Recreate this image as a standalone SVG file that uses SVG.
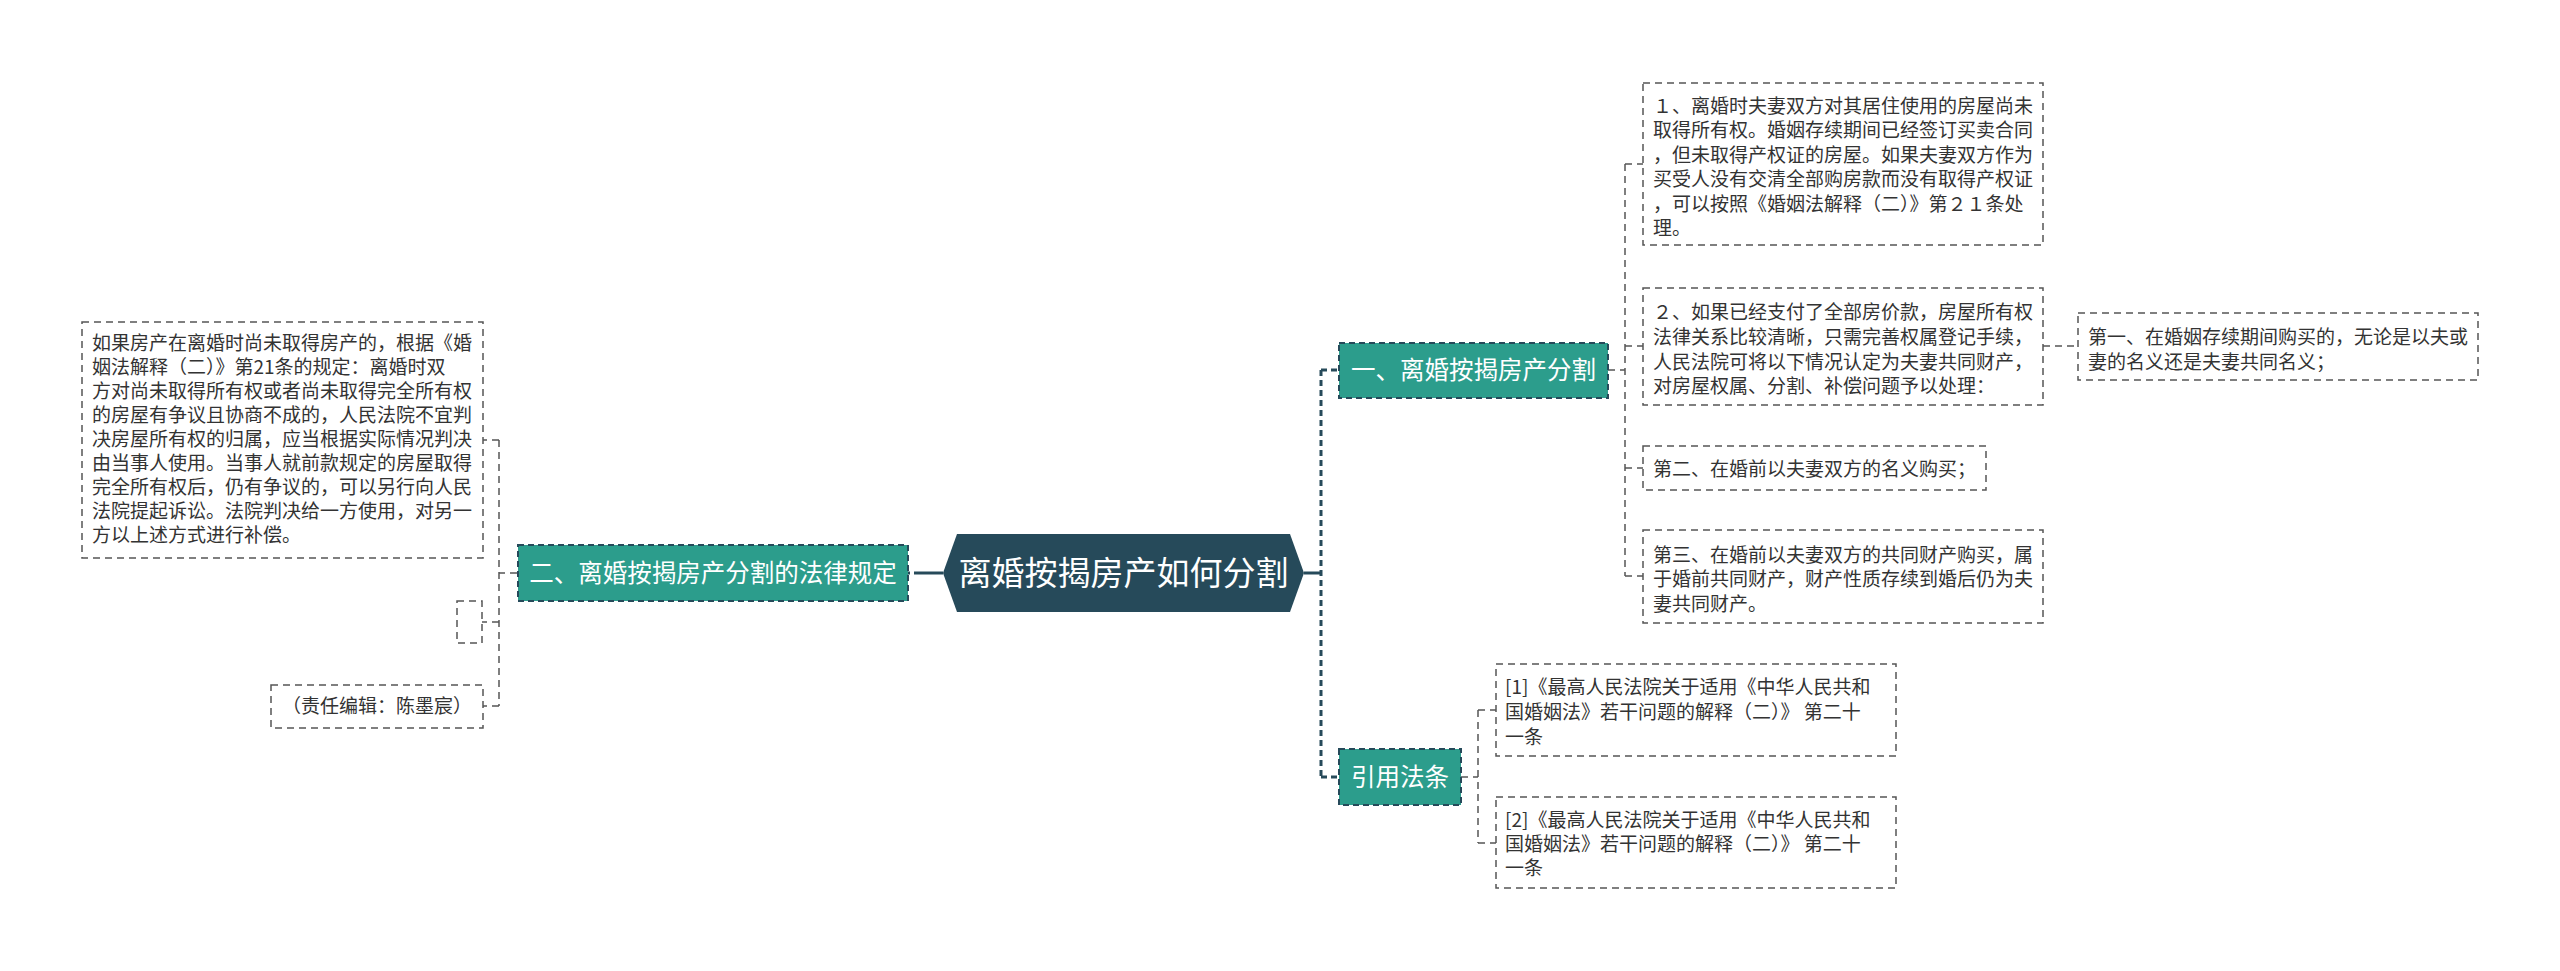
<svg xmlns="http://www.w3.org/2000/svg" width="2560" height="971" viewBox="0 0 2560 971">
<style>
text{font-family:"Microsoft YaHei","Noto Sans CJK SC","Noto Sans",sans-serif;}
.body{font-size:19px;fill:#333333;}
.box{fill:#ffffff;stroke:#555555;stroke-width:1.5;stroke-dasharray:7 5;}
.teal{fill:#2c9d8c;stroke:#264a5a;stroke-width:2;stroke-dasharray:6 4;}
.tt{font-size:24.5px;fill:#ffffff;text-anchor:middle;}
.ct{font-size:33px;fill:#ffffff;text-anchor:middle;}
.c1{fill:none;stroke:#264a5a;stroke-width:3;stroke-dasharray:6 4;}
.c2{fill:none;stroke:#555555;stroke-width:1.5;stroke-dasharray:7 5;}
</style>
<rect width="2560" height="971" fill="#ffffff"/>
<g id="connectors">
<path class="c1" d="M920 573H908"/>
<path d="M943 573H920" stroke="#264a5a" stroke-width="3" fill="none"/>
<path d="M1304 573H1321" stroke="#264a5a" stroke-width="3" fill="none"/>
<path class="c1" d="M1321 370V777M1321 370H1339M1321 777H1339"/>
<path class="c2" d="M517 573H499M499 440V706M499 440H483M499 622H482M499 706H483"/>
<path class="c2" d="M1608 370H1625M1625 164V576M1625 164H1643M1625 346H1643M1625 468H1643M1625 576H1643"/>
<path class="c2" d="M2043 346H2078"/>
<path class="c2" d="M1461 777H1478M1478 710V843M1478 710H1496M1478 843H1496"/>
</g>
<g id="center">
<polygon points="943,573 957,534 1290,534 1304,573 1290,612 957,612" fill="#264a5a"/>
<text class="ct" x="1123.5" y="585">离婚按揭房产如何分割</text>
</g>
<g id="node-er">
<rect class="teal" x="518" y="545" width="390" height="56"/>
<text class="tt" x="713" y="582">二、离婚按揭房产分割的法律规定</text>
</g>
<g id="node-yi">
<rect class="teal" x="1339" y="343" width="269" height="55"/>
<text class="tt" x="1473.5" y="379">一、离婚按揭房产分割</text>
</g>
<g id="node-yinyong">
<rect class="teal" x="1339" y="749" width="122" height="56"/>
<text class="tt" x="1400" y="786">引用法条</text>
</g>
<g id="left-text">
<rect class="box" x="82" y="322" width="401" height="236"/>
<text class="body" x="92" y="350">如果房产在离婚时尚未取得房产的，根据《婚</text>
<text class="body" x="92" y="374">姻法解释（二）》第21条的规定：离婚时双</text>
<text class="body" x="92" y="398">方对尚未取得所有权或者尚未取得完全所有权</text>
<text class="body" x="92" y="422">的房屋有争议且协商不成的，人民法院不宜判</text>
<text class="body" x="92" y="446">决房屋所有权的归属，应当根据实际情况判决</text>
<text class="body" x="92" y="470">由当事人使用。当事人就前款规定的房屋取得</text>
<text class="body" x="92" y="494">完全所有权后，仍有争议的，可以另行向人民</text>
<text class="body" x="92" y="518">法院提起诉讼。法院判决给一方使用，对另一</text>
<text class="body" x="92" y="542">方以上述方式进行补偿。</text>
</g>
<g id="left-empty">
<rect class="box" x="457" y="601" width="25" height="42"/>
</g>
<g id="left-editor">
<rect class="box" x="271" y="685" width="212" height="43"/>
<text class="body" x="377" y="713" text-anchor="middle">（责任编辑：陈墨宸）</text>
</g>
<g id="item-1">
<rect class="box" x="1643" y="83" width="400" height="162"/>
<text class="body" x="1653" y="113">１、离婚时夫妻双方对其居住使用的房屋尚未</text>
<text class="body" x="1653" y="137.4">取得所有权。婚姻存续期间已经签订买卖合同</text>
<text class="body" x="1653" y="161.8">，但未取得产权证的房屋。如果夫妻双方作为</text>
<text class="body" x="1653" y="186.2">买受人没有交清全部购房款而没有取得产权证</text>
<text class="body" x="1653" y="210.6">，可以按照《婚姻法解释（二）》第２１条处</text>
<text class="body" x="1653" y="235">理。</text>
</g>
<g id="item-2">
<rect class="box" x="1643" y="288" width="400" height="117"/>
<text class="body" x="1653" y="319">２、如果已经支付了全部房价款，房屋所有权</text>
<text class="body" x="1653" y="343.8">法律关系比较清晰，只需完善权属登记手续，</text>
<text class="body" x="1653" y="368.6">人民法院可将以下情况认定为夫妻共同财产，</text>
<text class="body" x="1653" y="393.4">对房屋权属、分割、补偿问题予以处理：</text>
</g>
<g id="item-first">
<rect class="box" x="2078" y="313" width="400" height="67"/>
<text class="body" x="2088" y="344">第一、在婚姻存续期间购买的，无论是以夫或</text>
<text class="body" x="2088" y="369">妻的名义还是夫妻共同名义；</text>
</g>
<g id="item-second">
<rect class="box" x="1643" y="446" width="343" height="44"/>
<text class="body" x="1653" y="476">第二、在婚前以夫妻双方的名义购买；</text>
</g>
<g id="item-third">
<rect class="box" x="1643" y="530" width="400" height="93"/>
<text class="body" x="1653" y="562">第三、在婚前以夫妻双方的共同财产购买，属</text>
<text class="body" x="1653" y="586.3">于婚前共同财产，财产性质存续到婚后仍为夫</text>
<text class="body" x="1653" y="610.6">妻共同财产。</text>
</g>
<g id="ref-1">
<rect class="box" x="1496" y="664" width="400" height="92"/>
<text class="body" x="1505" y="694">[1]《最高人民法院关于适用《中华人民共和</text>
<text class="body" x="1505" y="719">国婚姻法》若干问题的解释（二）》 第二十</text>
<text class="body" x="1505" y="744">一条</text>
</g>
<g id="ref-2">
<rect class="box" x="1496" y="797" width="400" height="91"/>
<text class="body" x="1505" y="827">[2]《最高人民法院关于适用《中华人民共和</text>
<text class="body" x="1505" y="851">国婚姻法》若干问题的解释（二）》 第二十</text>
<text class="body" x="1505" y="875">一条</text>
</g>
</svg>
